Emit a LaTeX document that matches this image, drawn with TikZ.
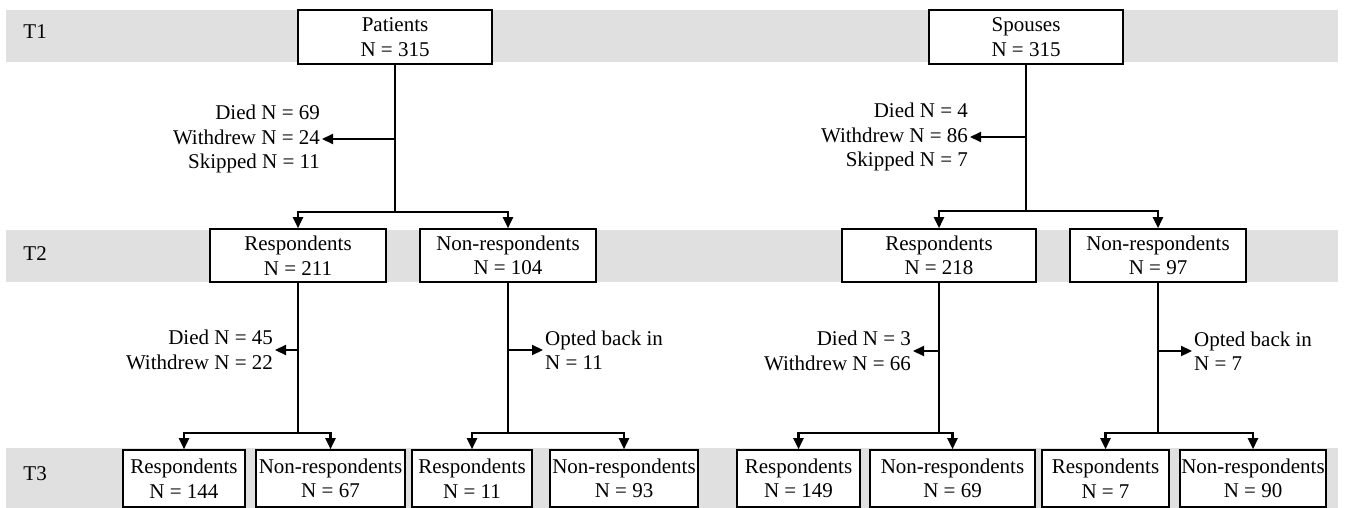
\documentclass[tikz,border=0pt]{standalone}
\usepackage{fontspec}
\setmainfont{Liberation Serif}
\usepackage{tikz}
\usetikzlibrary{arrows.meta}
\usetikzlibrary{positioning}
\tikzset{->/.style = {-{Triangle[length=11pt, width=10pt]}, line width=2.2pt},
         box/.style = {draw, fill=white, line width=1.6pt, align=center,
                       inner sep=0pt, minimum height=54pt},
         band/.style = {fill=black!12},
         sidel/.style = {align=right, inner sep=1pt},
         sider/.style = {align=left, inner sep=1pt}}

\begin{document}
\begin{tikzpicture}[x=1pt, y=-1pt, font=\fontsize{21}{24.5}\selectfont, line width=2.2pt]
    \useasboundingbox (0,0) rectangle (1346,508);
    \fill [band] (6,10) rectangle (1338,62);
    \fill [band] (6,230) rectangle (1338,282);
    \fill [band] (6,448) rectangle (1338,508);
    \node [anchor=west] (t1) at (19,32) {T1};
    \node [anchor=west] (t2) at (19,254) {T2};
    \node [anchor=west] (t3) at (19,474) {T3};

    \node [box, minimum width=194pt] (pat) at (395,37) {Patients\\N = 315};
    \node [box, minimum width=176pt, minimum height=53pt] (r2p) at (298,255.5) {Respondents\\N = 211};
    \node [box, minimum width=176pt, minimum height=53pt] (n2p) at (508,255.5) {Non-respondents\\N = 104};
    \node [box, minimum width=122pt, minimum height=57pt] (r3p) at (184,478.5) {Respondents\\N = 144};
    \node [box, minimum width=149pt, minimum height=57pt] (r3n) at (330.5,478.5) {Non-respondents\\N = 67};
    \node [box, minimum width=120pt, minimum height=57pt] (n3p) at (472,478.5) {Respondents\\N = 11};
    \node [box, minimum width=148pt, minimum height=57pt] (n3n) at (624,478.5) {Non-respondents\\N = 93};

    \node [box, minimum width=194pt] (spo) at (1026,37) {Spouses\\N = 315};
    \node [box, minimum width=194pt, minimum height=53pt] (r2s) at (939,255.5) {Respondents\\N = 218};
    \node [box, minimum width=176pt, minimum height=53pt] (n2s) at (1158,255.5) {Non-respondents\\N = 97};
    \node [box, minimum width=123pt, minimum height=57pt] (r3sp) at (798.5,478.5) {Respondents\\N = 149};
    \node [box, minimum width=165pt, minimum height=57pt] (r3sn) at (952.5,478.5) {Non-respondents\\N = 69};
    \node [box, minimum width=127pt, minimum height=57pt] (n3sp) at (1105.5,478.5) {Respondents\\N = 7};
    \node [box, minimum width=146pt, minimum height=57pt] (n3sn) at (1253,478.5) {Non-respondents\\N = 90};

    \node [sidel, anchor=east] (patl) at (322,139) {Died N = 69\\Withdrew N = 24\\Skipped N = 11};
    \node [sidel, anchor=east] (r2pl) at (275,350) {Died N = 45\\Withdrew N = 22};
    \node [sider, anchor=west] (n2pl) at (543,350) {Opted back in\\N = 11};
    \node [sidel, anchor=east] (spol) at (970,137) {Died N = 4\\Withdrew N = 86\\Skipped N = 7};
    \node [sidel, anchor=east] (r2sl) at (913,351) {Died N = 3\\Withdrew N = 66};
    \node [sider, anchor=west] (n2sl) at (1192,351) {Opted back in\\N = 7};

    \coordinate (patj) at (395,212);
    \coordinate (r2pj) at (298,433);
    \coordinate (n2pj) at (508,433);
    \coordinate (spoj) at (1026,211);
    \coordinate (r2sj) at (939,433);
    \coordinate (n2sj) at (1158,433);

    \draw (pat) -- (patj);
    \draw [->] (patj) -| (r2p);
    \draw [->] (patj) -| (n2p);
    \draw [->] (pat |- patl.east) -- (patl.east);
    \draw (r2p) -- (r2pj);
    \draw [->] (r2pj) -| (r3p);
    \draw [->] (r2pj) -| (r3n);
    \draw [->] (r2p |- r2pl.east) -- (r2pl.east);
    \draw (n2p) -- (n2pj);
    \draw [->] (n2pj) -| (n3p);
    \draw [->] (n2pj) -| (n3n);
    \draw [->] (n2p |- n2pl.west) -- (n2pl.west);

    \draw (spo) -- (spoj);
    \draw [->] (spoj) -| (r2s);
    \draw [->] (spoj) -| (n2s);
    \draw [->] (spo |- spol.east) -- (spol.east);
    \draw (r2s) -- (r2sj);
    \draw [->] (r2sj) -| (r3sp);
    \draw [->] (r2sj) -| (r3sn);
    \draw [->] (r2s |- r2sl.east) -- (r2sl.east);
    \draw (n2s) -- (n2sj);
    \draw [->] (n2sj) -| (n3sp);
    \draw [->] (n2sj) -| (n3sn);
    \draw [->] (n2s |- n2sl.west) -- (n2sl.west);
\end{tikzpicture}
\end{document}
